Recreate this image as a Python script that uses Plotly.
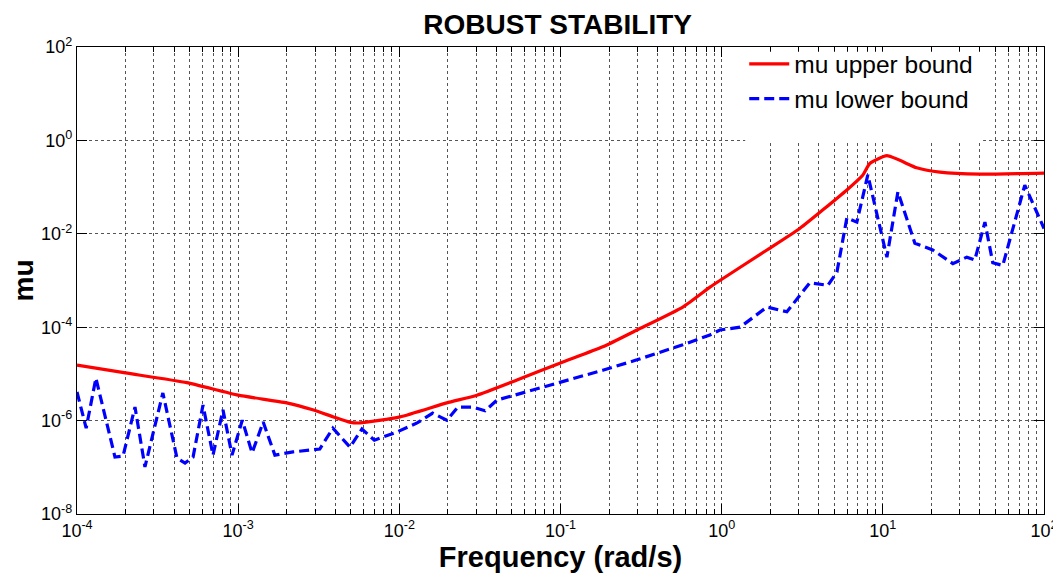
import plotly.graph_objects as go

# ---- data ----
freq_upper = [1e-4, 2.0e-4, 4.8e-4, 1e-3, 2.0e-3, 2.9e-3, 3.9e-3, 4.9e-3, 5.7e-3,
              1.01e-2, 1.97e-2, 3.03e-2, 5.37e-2, 0.099, 0.183, 0.298, 0.574, 0.845,
              0.975, 1.91, 3.05, 5.98, 7.5, 8.3, 10.6, 16.2, 22.6, 40.0, 100.0]
mu_upper = [1.55e-5, 1.05e-5, 6.5e-6, 3.5e-6, 2.4e-6, 1.7e-6, 1.2e-6, 9.3e-7, 8.9e-7,
            1.2e-6, 2.4e-6, 3.5e-6, 7.4e-6, 1.7e-5, 3.8e-5, 8.7e-5, 2.7e-4, 7.2e-4,
            1.0e-3, 4.5e-3, 1.3e-2, 8.7e-2, 0.18, 0.32, 0.47, 0.26, 0.21, 0.19, 0.2]

freq_lower = [1.00e-4, 1.14e-4, 1.31e-4, 1.72e-4, 1.93e-4, 2.29e-4, 2.64e-4, 3.41e-4,
              4.17e-4, 4.68e-4, 5.25e-4, 6.05e-4, 6.98e-4, 8.05e-4, 9.16e-4, 1.06e-3,
              1.22e-3, 1.43e-3, 1.69e-3, 2.19e-3, 3.21e-3, 3.87e-3, 4.94e-3, 5.86e-3,
              7.0e-3, 9.66e-3, 1.29e-2, 1.61e-2, 1.97e-2, 2.31e-2, 2.86e-2, 3.4e-2,
              4.04e-2, 0.058, 0.099, 0.183, 0.298, 0.574, 0.845, 0.975, 1.30, 1.91,
              2.54, 3.52, 4.56, 5.19, 5.98, 6.90, 8.07, 10.6, 12.4, 15.8, 20.4, 27.2,
              33.2, 37.2, 43.0, 48.1, 55.5, 76.0, 100.0]
mu_lower = [4.1e-6, 6.9e-7, 8.1e-6, 1.66e-7, 1.74e-7, 1.95e-6, 1.02e-7, 3.9e-6,
            1.58e-7, 1.23e-7, 1.66e-7, 2.14e-6, 1.82e-7, 1.7e-6, 1.82e-7, 1.02e-6,
            2.04e-7, 9.3e-7, 1.82e-7, 2.14e-7, 2.46e-7, 6.9e-7, 2.7e-7, 6.6e-7,
            3.8e-7, 5.7e-7, 8.9e-7, 1.44e-6, 1.02e-6, 1.95e-6, 1.95e-6, 1.62e-6,
            2.75e-6, 3.9e-6, 6.5e-6, 1.2e-5, 2.0e-5, 4.2e-5, 6.8e-5, 8.7e-5, 1.0e-4,
            2.7e-4, 2.14e-4, 8.9e-4, 7.9e-4, 1.51e-3, 2.19e-2, 1.78e-2, 0.182, 3.16e-3,
            7.9e-2, 6.3e-3, 4.5e-3, 2.3e-3, 3.16e-3, 2.75e-3, 1.78e-2, 2.4e-3, 2.1e-3,
            0.11, 1.3e-2]

x_tick_vals = [1e-4, 1e-3, 1e-2, 1e-1, 1e0, 1e1, 1e2]
x_tick_text = ["10<sup>-4</sup>", "10<sup>-3</sup>", "10<sup>-2</sup>", "10<sup>-1</sup>",
               "10<sup>0</sup>", "10<sup>1</sup>", "10<sup>2</sup>"]
y_tick_vals = [1e-8, 1e-6, 1e-4, 1e-2, 1e0, 1e2]
y_tick_text = ["10<sup>-8</sup>", "10<sup>-6</sup>", "10<sup>-4</sup>", "10<sup>-2</sup>",
               "10<sup>0</sup>", "10<sup>2</sup>"]

title_text = "ROBUST STABILITY"
x_title = "Frequency (rad/s)"
y_title = "mu"
name_upper = "mu upper bound"
name_lower = "mu lower bound"

# minor grid positions (2..9 per decade)
x_minor = [m * 10.0 ** e for e in range(-4, 2) for m in range(2, 10)]

FONT = "Arial, Liberation Sans, sans-serif"

fig = go.Figure()
fig.add_trace(go.Scatter(x=freq_upper, y=mu_upper, mode="lines", name=name_upper,
                         line=dict(color="#ff0000", width=3.2, shape="spline",
                                   smoothing=0.5)))
fig.add_trace(go.Scatter(x=freq_lower, y=mu_lower, mode="lines", name=name_lower,
                         line=dict(color="#0000ff", width=3.2, dash="10px,5px")))

# white legend box hiding the grid behind the legend (no data lies in this area)
fig.add_shape(type="rect", xref="x domain", yref="y domain",
              x0=0.691, x1=0.937, y0=0.797, y1=0.99,
              fillcolor="white", line=dict(width=0), layer="above")

grid_col = "#555555"
# page body has an 8px margin, so the figure is sized to fit the 1061x577 window
fig.update_layout(
    width=1053, height=569,
    margin=dict(l=69, r=17, t=39, b=63, autoexpand=False),
    paper_bgcolor="white", plot_bgcolor="white",
    font=dict(family=FONT, color="black"),
    title=dict(text="<b>" + title_text + "</b>", x=0.522, xanchor="center",
               y=0.972, yanchor="middle", font=dict(size=28, family=FONT),
               automargin=False),
    legend=dict(x=0.69, y=1.012, xanchor="left", yanchor="top",
                bgcolor="rgba(0,0,0,0)", borderwidth=0,
                font=dict(size=24.5, family=FONT),
                itemwidth=40, tracegroupgap=0),
    showlegend=True,
)
fig.update_xaxes(
    type="log", range=[-4, 2], automargin=False,
    tickmode="array", tickvals=x_tick_vals, ticktext=x_tick_text,
    ticks="inside", ticklen=10, tickcolor="black", tickfont=dict(size=18),
    showline=True, linecolor="black", linewidth=1.2, mirror="ticks",
    showgrid=True, gridcolor=grid_col, griddash="dot", gridwidth=1,
    minor=dict(tickmode="array", tickvals=x_minor, ticks="inside", ticklen=5,
               tickcolor="black", showgrid=True, gridcolor=grid_col,
               griddash="dot", gridwidth=1),
    title=dict(text="<b>" + x_title + "</b>", font=dict(size=29), standoff=4),
    zeroline=False,
)
fig.update_yaxes(
    type="log", range=[-8, 2], automargin=False,
    tickmode="array", tickvals=y_tick_vals, ticktext=y_tick_text,
    ticks="inside", ticklen=10, tickcolor="black", tickfont=dict(size=18),
    showline=True, linecolor="black", linewidth=1.2, mirror="ticks",
    showgrid=True, gridcolor=grid_col, griddash="dot", gridwidth=1,
    title=dict(text="<b>" + y_title + "</b>", font=dict(size=28), standoff=8),
    zeroline=False,
)

fig.write_html("out.html")
